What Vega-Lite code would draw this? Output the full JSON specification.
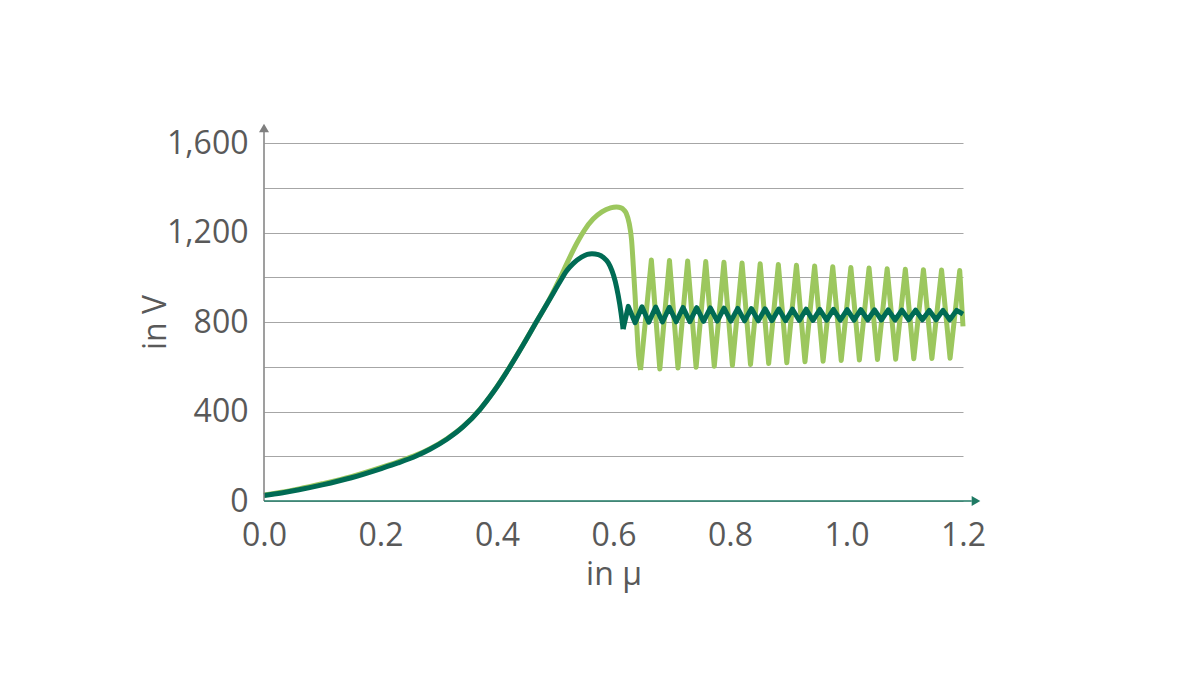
{
  "$schema": "https://vega.github.io/schema/vega-lite/v6.json",
  "width": 699,
  "height": 358,
  "autosize": {"type": "none"},
  "padding": {"left": 264, "top": 143, "right": 237, "bottom": 174},
  "background": "white",
  "config": {
    "view": {"stroke": null},
    "axis": {
      "labelFont": "Open Sans",
      "labelFontSize": 32,
      "labelColor": "#595959",
      "labelFlush": false,
      "labelOverlap": false,
      "labelBound": false,
      "titleFont": "Open Sans",
      "titleFontSize": 32,
      "titleFontWeight": "normal",
      "titleColor": "#595959"
    }
  },
  "datasets": {
    "lightRise": [
      {"x": 0.0, "v": 27}, {"x": 0.03, "v": 39}, {"x": 0.06, "v": 54}, {"x": 0.1, "v": 77},
      {"x": 0.15, "v": 109}, {"x": 0.2, "v": 149}, {"x": 0.23, "v": 175}, {"x": 0.262, "v": 206},
      {"x": 0.285, "v": 234}, {"x": 0.314, "v": 278}, {"x": 0.342, "v": 333}, {"x": 0.371, "v": 411},
      {"x": 0.394, "v": 489}, {"x": 0.4223, "v": 601}, {"x": 0.445, "v": 699}, {"x": 0.4685, "v": 805},
      {"x": 0.491, "v": 907}, {"x": 0.508, "v": 995}, {"x": 0.52, "v": 1062}, {"x": 0.537, "v": 1152},
      {"x": 0.55, "v": 1210}, {"x": 0.565, "v": 1260}, {"x": 0.58, "v": 1292}, {"x": 0.595, "v": 1310},
      {"x": 0.605, "v": 1314}, {"x": 0.613, "v": 1310}, {"x": 0.618, "v": 1300}, {"x": 0.622, "v": 1285},
      {"x": 0.627, "v": 1240}, {"x": 0.631, "v": 1167}, {"x": 0.634, "v": 1050}, {"x": 0.637, "v": 920},
      {"x": 0.64, "v": 780}, {"x": 0.643, "v": 650}, {"x": 0.6465, "v": 586}
    ],
    "lightZigzag": [
      {"x": 0.6465, "v": 586},
      {"x": 0.665, "v": 1077}, {"x": 0.6795, "v": 590}, {"x": 0.6961, "v": 1075}, {"x": 0.7107, "v": 594},
      {"x": 0.7273, "v": 1073}, {"x": 0.7418, "v": 598}, {"x": 0.7584, "v": 1070}, {"x": 0.773, "v": 602},
      {"x": 0.7896, "v": 1067}, {"x": 0.8041, "v": 606}, {"x": 0.8207, "v": 1064}, {"x": 0.8352, "v": 610},
      {"x": 0.8518, "v": 1060}, {"x": 0.8664, "v": 614}, {"x": 0.883, "v": 1057}, {"x": 0.8975, "v": 618},
      {"x": 0.9141, "v": 1054}, {"x": 0.9287, "v": 622}, {"x": 0.9453, "v": 1050}, {"x": 0.9598, "v": 625},
      {"x": 0.9764, "v": 1047}, {"x": 0.9909, "v": 628}, {"x": 1.0075, "v": 1044}, {"x": 1.0221, "v": 630},
      {"x": 1.0387, "v": 1041}, {"x": 1.0532, "v": 632}, {"x": 1.0698, "v": 1038}, {"x": 1.0844, "v": 634},
      {"x": 1.101, "v": 1036}, {"x": 1.1155, "v": 636}, {"x": 1.1321, "v": 1034}, {"x": 1.1466, "v": 637},
      {"x": 1.1632, "v": 1032}, {"x": 1.1778, "v": 638}, {"x": 1.1944, "v": 1030}, {"x": 1.2, "v": 780}
    ],
    "darkRise": [
      {"x": 0.0, "v": 25}, {"x": 0.03, "v": 36}, {"x": 0.06, "v": 50}, {"x": 0.1, "v": 72},
      {"x": 0.15, "v": 104}, {"x": 0.2, "v": 144}, {"x": 0.23, "v": 170}, {"x": 0.262, "v": 202},
      {"x": 0.285, "v": 231}, {"x": 0.314, "v": 276}, {"x": 0.342, "v": 332}, {"x": 0.371, "v": 410},
      {"x": 0.394, "v": 488}, {"x": 0.4223, "v": 600}, {"x": 0.445, "v": 698}, {"x": 0.4685, "v": 804},
      {"x": 0.491, "v": 904}, {"x": 0.508, "v": 980}, {"x": 0.52, "v": 1030},
      {"x": 0.531, "v": 1062}, {"x": 0.545, "v": 1090}, {"x": 0.555, "v": 1102}, {"x": 0.563, "v": 1105},
      {"x": 0.574, "v": 1101}, {"x": 0.583, "v": 1088}, {"x": 0.591, "v": 1065}, {"x": 0.597, "v": 1032},
      {"x": 0.603, "v": 982}, {"x": 0.608, "v": 920}, {"x": 0.613, "v": 840}, {"x": 0.6165, "v": 768}
    ],
    "darkZigzag": [
      {"x": 0.6165, "v": 768},
      {"x": 0.6254, "v": 870}, {"x": 0.6371, "v": 797}, {"x": 0.6489, "v": 868}, {"x": 0.6606, "v": 799},
      {"x": 0.6724, "v": 867}, {"x": 0.6841, "v": 800}, {"x": 0.6959, "v": 866}, {"x": 0.7076, "v": 801},
      {"x": 0.7193, "v": 865}, {"x": 0.7311, "v": 802}, {"x": 0.7428, "v": 864}, {"x": 0.7546, "v": 803},
      {"x": 0.7663, "v": 863}, {"x": 0.7781, "v": 804}, {"x": 0.7898, "v": 862}, {"x": 0.8015, "v": 804},
      {"x": 0.8133, "v": 861}, {"x": 0.825, "v": 805}, {"x": 0.8368, "v": 860}, {"x": 0.8485, "v": 805},
      {"x": 0.8603, "v": 859}, {"x": 0.872, "v": 806}, {"x": 0.8837, "v": 858}, {"x": 0.8955, "v": 806},
      {"x": 0.9072, "v": 857}, {"x": 0.919, "v": 807}, {"x": 0.9307, "v": 857}, {"x": 0.9424, "v": 807},
      {"x": 0.9542, "v": 856}, {"x": 0.9659, "v": 808}, {"x": 0.9777, "v": 856}, {"x": 0.9894, "v": 808},
      {"x": 1.0012, "v": 855}, {"x": 1.0129, "v": 808}, {"x": 1.0246, "v": 855}, {"x": 1.0364, "v": 809},
      {"x": 1.0481, "v": 854}, {"x": 1.0599, "v": 809}, {"x": 1.0716, "v": 854}, {"x": 1.0834, "v": 809},
      {"x": 1.0951, "v": 853}, {"x": 1.1068, "v": 810}, {"x": 1.1186, "v": 853}, {"x": 1.1303, "v": 810},
      {"x": 1.1421, "v": 852}, {"x": 1.1538, "v": 810}, {"x": 1.1656, "v": 852}, {"x": 1.1773, "v": 810},
      {"x": 1.189, "v": 852}, {"x": 1.2, "v": 835}
    ]
  },
  "layer": [
    {
      "data": {"name": "lightRise"},
      "mark": {"type": "line", "color": "#9cc75e", "strokeWidth": 5, "interpolate": "monotone"},
      "encoding": {
        "x": {
          "field": "x",
          "type": "quantitative",
          "scale": {"domain": [0, 1.2], "nice": false},
          "axis": {
            "title": "in µ",
            "values": [0, 0.2, 0.4, 0.6, 0.8, 1.0, 1.2],
            "format": ".1f",
            "domain": false,
            "ticks": false,
            "grid": false,
            "labelPadding": 19,
            "titlePadding": 8
          }
        },
        "y": {
          "field": "v",
          "type": "quantitative",
          "scale": {"domain": [0, 1600], "nice": false},
          "axis": {
            "title": "in V",
            "values": [0, 200, 400, 600, 800, 1000, 1200, 1400, 1600],
            "labelExpr": "datum.value % 400 == 0 ? format(datum.value, ',') : ''",
            "domain": false,
            "ticks": false,
            "grid": true,
            "gridColor": "#a6a6a6",
            "gridWidth": 1,
            "labelPadding": 16,
            "titlePadding": -6
          }
        }
      }
    },
    {
      "data": {"name": "lightZigzag"},
      "mark": {"type": "line", "color": "#9cc75e", "strokeWidth": 5, "strokeJoin": "round"},
      "encoding": {
        "x": {"field": "x", "type": "quantitative"},
        "y": {"field": "v", "type": "quantitative"}
      }
    },
    {
      "data": {"name": "darkRise"},
      "mark": {"type": "line", "color": "#006b54", "strokeWidth": 5, "interpolate": "monotone"},
      "encoding": {
        "x": {"field": "x", "type": "quantitative"},
        "y": {"field": "v", "type": "quantitative"}
      }
    },
    {
      "data": {"name": "darkZigzag"},
      "mark": {"type": "line", "color": "#006b54", "strokeWidth": 5, "strokeJoin": "round"},
      "encoding": {
        "x": {"field": "x", "type": "quantitative"},
        "y": {"field": "v", "type": "quantitative"}
      }
    },
    {
      "data": {"values": [{"x": 0, "y": 0, "y2": 1660}]},
      "mark": {"type": "rule", "color": "#7f7f7f", "strokeWidth": 1.5},
      "encoding": {
        "x": {"field": "x", "type": "quantitative"},
        "y": {"field": "y", "type": "quantitative"},
        "y2": {"field": "y2"}
      }
    },
    {
      "data": {"values": [{"x": 0, "x2": 1.215, "y": 0}]},
      "mark": {"type": "rule", "color": "#1f7a64", "strokeWidth": 1.5},
      "encoding": {
        "x": {"field": "x", "type": "quantitative"},
        "x2": {"field": "x2"},
        "y": {"field": "y", "type": "quantitative"}
      }
    },
    {
      "data": {"values": [{"x": 0, "y": 1667}]},
      "mark": {"type": "point", "shape": "triangle-up", "filled": true, "size": 100, "color": "#7f7f7f", "opacity": 1},
      "encoding": {
        "x": {"field": "x", "type": "quantitative"},
        "y": {"field": "y", "type": "quantitative"}
      }
    },
    {
      "data": {"values": [{"x": 1.2223, "y": 0}]},
      "mark": {"type": "point", "shape": "triangle-right", "filled": true, "size": 100, "color": "#1f7a64", "opacity": 1},
      "encoding": {
        "x": {"field": "x", "type": "quantitative"},
        "y": {"field": "y", "type": "quantitative"}
      }
    }
  ]
}
